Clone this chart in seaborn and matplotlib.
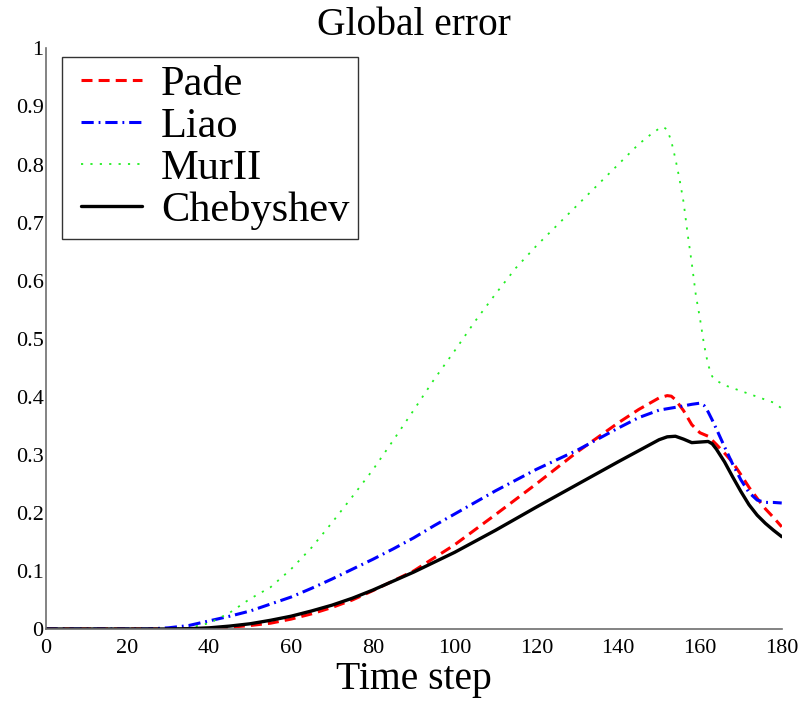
import numpy as np
import pandas as pd
import seaborn as sns
import matplotlib
matplotlib.use("Agg")
import matplotlib.pyplot as plt
from matplotlib.ticker import FuncFormatter
from matplotlib.legend_handler import HandlerLine2D
from matplotlib.lines import Line2D

# Global error per time step for each absorbing-boundary scheme
pade_steps = [0, 30, 40, 45, 50, 55, 60, 65, 70, 75, 80, 90, 100, 110, 120, 130,
              140, 145, 150, 152, 153, 154, 156, 158, 160, 162, 164, 166, 168,
              170, 172, 174, 176, 178, 180]
pade_err = [0, 0, 0.001, 0.003, 0.006, 0.010, 0.017, 0.026, 0.037, 0.050, 0.066,
            0.100, 0.145, 0.197, 0.250, 0.305, 0.355, 0.378, 0.398, 0.402, 0.401,
            0.395, 0.376, 0.352, 0.338, 0.332, 0.318, 0.303, 0.287, 0.266, 0.244,
            0.225, 0.207, 0.192, 0.176]

liao_steps = [0, 25, 30, 35, 40, 45, 50, 55, 60, 65, 70, 75, 80, 85, 90, 95, 100,
              110, 120, 130, 140, 145, 150, 155, 158, 160, 161, 162, 163, 164,
              166, 168, 170, 172, 174, 176, 178, 180]
liao_err = [0, 0, 0.002, 0.006, 0.014, 0.022, 0.031, 0.043, 0.055, 0.070, 0.086,
            0.103, 0.120, 0.138, 0.157, 0.178, 0.198, 0.238, 0.275, 0.308, 0.346,
            0.364, 0.377, 0.383, 0.387, 0.389, 0.385, 0.374, 0.360, 0.345, 0.314,
            0.284, 0.257, 0.235, 0.222, 0.218, 0.218, 0.217]

murii_steps = [0, 30, 35, 40, 45, 50, 55, 60, 65, 70, 75, 80, 85, 90, 95, 100,
               105, 110, 115, 120, 125, 130, 135, 140, 145, 148, 150, 151, 152,
               153, 154, 155, 156, 157, 158, 159, 160, 161, 162, 163, 164, 166,
               168, 170, 174, 178, 180]
murii_err = [0, 0, 0.002, 0.010, 0.028, 0.052, 0.072, 0.103, 0.140, 0.183, 0.228,
             0.274, 0.325, 0.377, 0.430, 0.479, 0.530, 0.577, 0.622, 0.660, 0.695,
             0.730, 0.765, 0.800, 0.835, 0.852, 0.862, 0.865, 0.860, 0.840, 0.810,
             0.775, 0.735, 0.680, 0.630, 0.575, 0.535, 0.490, 0.455, 0.435, 0.428,
             0.420, 0.415, 0.410, 0.400, 0.390, 0.380]

cheb_steps = [0, 30, 35, 40, 45, 50, 55, 60, 65, 70, 75, 80, 90, 100, 110, 120,
              130, 140, 145, 150, 152, 154, 156, 158, 160, 162, 163, 164, 166,
              168, 170, 172, 174, 176, 178, 180]
cheb_err = [0, 0, 0.0005, 0.002, 0.005, 0.009, 0.015, 0.022, 0.031, 0.041, 0.053,
            0.067, 0.098, 0.132, 0.170, 0.210, 0.249, 0.288, 0.307, 0.326, 0.331,
            0.332, 0.327, 0.321, 0.322, 0.323, 0.319, 0.310, 0.288, 0.262, 0.237,
            0.214, 0.196, 0.182, 0.170, 0.159]

x_ticks = list(range(0, 181, 20))
y_ticks = [round(0.1 * i, 1) for i in range(11)]

series = [
    ("Pade", pade_steps, pade_err, dict(color="#ff0000", lw=2.2, dashes=(3.6, 2.0))),
    ("Liao", liao_steps, liao_err, dict(color="#0000ff", lw=2.2, dashes=(4.0, 1.6, 0.6, 1.6))),
    ("MurII", murii_steps, murii_err, dict(color="#22ee22", lw=1.3, dashes=(1.2, 4.0))),
    ("Chebyshev", cheb_steps, cheb_err, dict(color="#000000", lw=2.4, dashes=None)),
]

sns.set_style("white")
plt.rcParams["font.family"] = ["Liberation Serif", "DejaVu Serif"]
plt.rcParams["text.color"] = "black"
plt.rcParams["axes.labelcolor"] = "black"

fig = plt.figure(figsize=(8.04, 7.02), dpi=100)
ax = fig.add_axes([0.0568, 0.104, 0.9155, 0.827])

for name, xs, ys, st in series:
    df = pd.DataFrame({"Time step": xs, "Global error": ys})
    sns.lineplot(data=df, x="Time step", y="Global error", ax=ax,
                 estimator=None, sort=False, color=st["color"],
                 linewidth=st["lw"], label=name)
    ln = ax.lines[-1]
    if st["dashes"] is not None:
        ln.set_dashes(st["dashes"])
    ln.set_dash_capstyle("butt")

ax.set_xlim(0, 180)
ax.set_ylim(0, 1)
ax.set_xticks(x_ticks)
ax.set_yticks(y_ticks)
ax.yaxis.set_major_formatter(FuncFormatter(lambda v, p: f"{v:g}"))

for side in ("top", "right"):
    ax.spines[side].set_visible(False)
for side in ("left", "bottom"):
    ax.spines[side].set_color("#6e6e6e")
    ax.spines[side].set_linewidth(1.2)
ax.tick_params(direction="in", length=6, width=1.0, color="#6e6e6e",
               labelsize=16, labelcolor="black")
ax.tick_params(axis="y", pad=1.5)
ax.tick_params(axis="x", pad=7.5)

ax.set_title("Global error", fontsize=28.5, pad=10, color="black")
ax.set_xlabel("Time step", fontsize=28.5, labelpad=2, color="black")
ax.set_ylabel("")

leg = ax.legend(loc="upper left", bbox_to_anchor=(0.0217, 0.986), borderaxespad=0,
                fontsize=30.5, frameon=True, fancybox=False, handlelength=1.69,
                handletextpad=0.45, labelspacing=0.08, borderpad=0.2,
                handler_map={Line2D: HandlerLine2D(xpad=0.248)})
leg.get_frame().set_edgecolor("black")
leg.get_frame().set_linewidth(1.0)
for t in leg.get_texts():
    t.set_color("black")

fig.savefig("out.png", dpi=100, facecolor="white")
